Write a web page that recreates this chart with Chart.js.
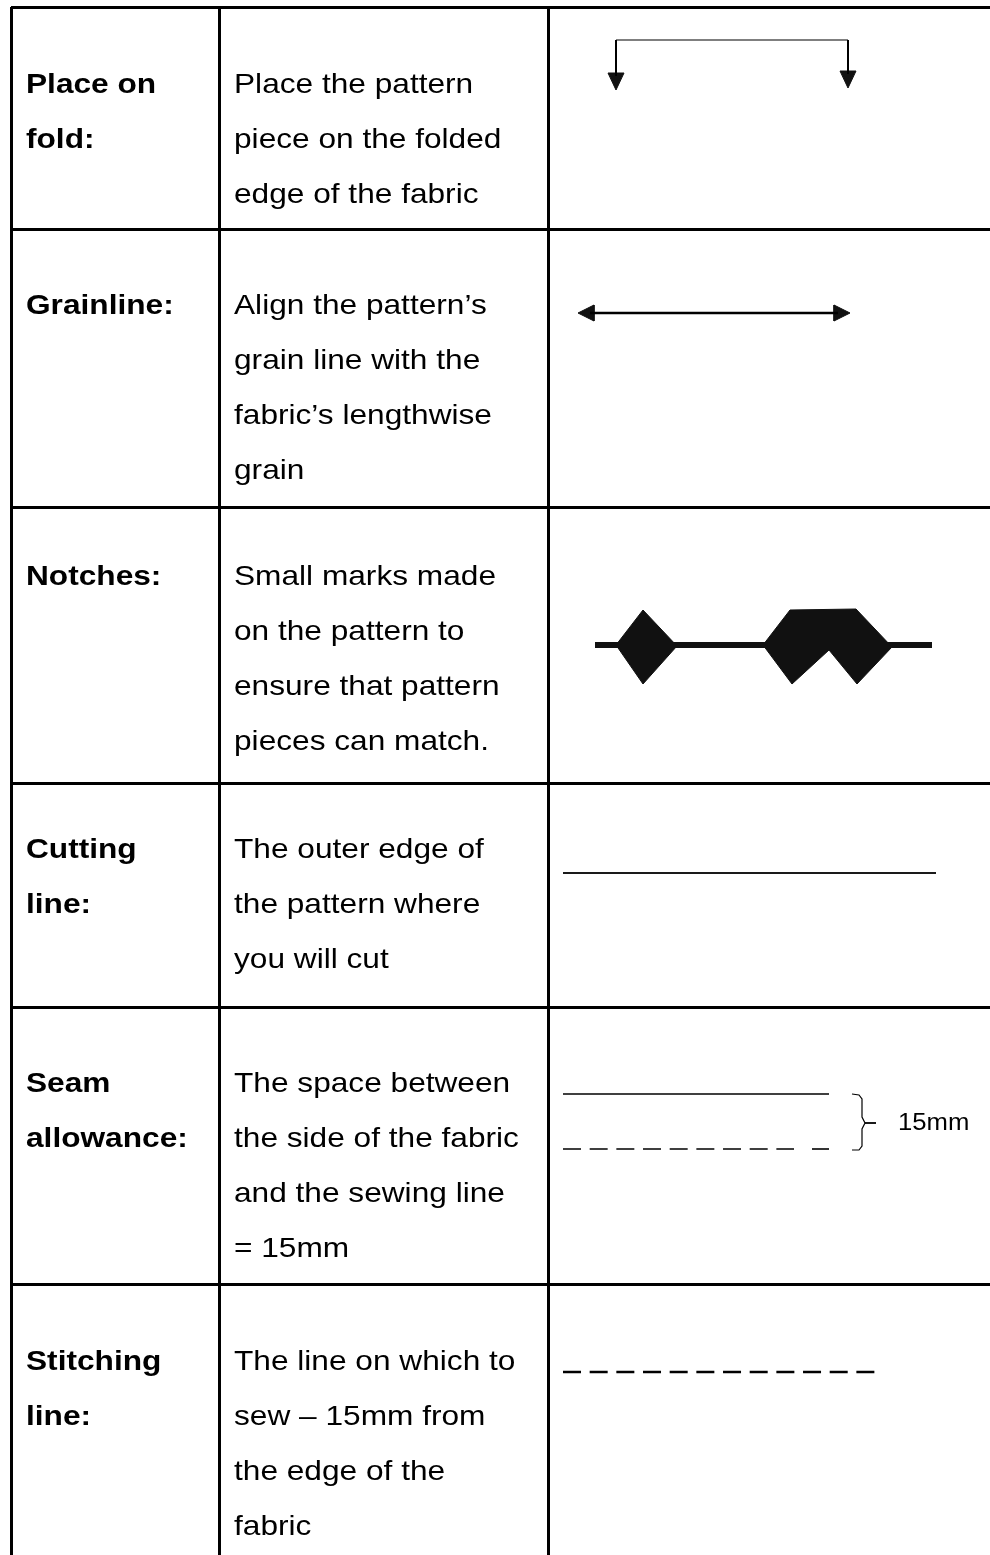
<!DOCTYPE html>
<html>
<head>
<meta charset="utf-8">
<script src="https://cdn.jsdelivr.net/npm/chart.js@4.4.0/dist/chart.umd.min.js"></script>
<style>
    html, body { margin: 0; padding: 0; background: #fff; }
    canvas { display: block; }
</style>
</head>
<body>
<canvas id="sewingSymbols" width="990" height="1555"></canvas>
<script>
// Table layout values (page units, y runs downwards).
const colEdges = [11, 219, 548];
const rowEdges = [7, 229, 507, 783, 1007, 1284];
const firstBaselines = [93, 314, 585, 858, 1092, 1370];
const lineStep = 55;

const terms = [
    ['Place on', 'fold:'],
    ['Grainline:'],
    ['Notches:'],
    ['Cutting', 'line:'],
    ['Seam', 'allowance:'],
    ['Stitching', 'line:']
];

const meanings = [
    ['Place the pattern', 'piece on the folded', 'edge of the fabric'],
    ['Align the pattern\u2019s', 'grain line with the', 'fabric\u2019s lengthwise', 'grain'],
    ['Small marks made', 'on the pattern to', 'ensure that pattern', 'pieces can match.'],
    ['The outer edge of', 'the pattern where', 'you will cut'],
    ['The space between', 'the side of the fabric', 'and the sewing line', '= 15mm'],
    ['The line on which to', 'sew \u2013 15mm from', 'the edge of the', 'fabric']
];

// Symbol outlines, in the same units as the table.
const foldBracket = [[616, 76], [616, 40], [848, 40], [848, 74]];
const foldHeadLeft = [[608, 73], [624, 73], [616, 90], [608, 73]];
const foldHeadRight = [[840, 71], [856, 71], [848, 88], [840, 71]];

const grainShaft = [[590, 313], [838, 313]];
const grainHeadLeft = [[578, 313], [594, 305], [594, 321], [578, 313]];
const grainHeadRight = [[850, 313], [834, 305], [834, 321], [850, 313]];

const notchBar = [[595, 645], [932, 645]];
const notchSingle = [[616, 645], [643, 610], [677, 646], [643, 684], [616, 645]];
const notchDouble = [[763, 645], [790, 610], [856, 609], [892, 647], [857, 684], [829, 650], [792, 684], [763, 645]];

const cuttingLine = [[563, 873], [936, 873]];

const seamEdge = [[563, 1094], [829, 1094]];
const seamStitch = [[563, 1149], [794, 1149]];
const seamStitchEnd = [[812, 1149], [829, 1149]];
const seamBrace = [[852, 1094], [859, 1095], [862, 1099], [862, 1117], [865, 1123], [862, 1129], [862, 1146], [859, 1150], [852, 1150]];
const seamBraceTick = [[865, 1123], [876, 1123]];
const seamLabel = { text: '15mm', x: 898, y: 1130 };

const stitchingLine = [[563, 1372], [875, 1372]];

const termX = 26;
const meaningX = 234;


function toPoints(list) {
    return list.map(p => ({ x: p[0], y: p[1] }));
}

function stroke(list, width, extra) {
    return Object.assign({
        data: toPoints(list),
        borderColor: '#000',
        borderWidth: width,
        pointRadius: 0,
        tension: 0,
        fill: false
    }, extra || {});
}

function shape(list) {
    return {
        data: toPoints(list),
        borderColor: '#111',
        backgroundColor: '#111',
        borderWidth: 1,
        pointRadius: 0,
        tension: 0,
        fill: 'shape'
    };
}

const dash = [18, 8.67];

const datasets = [
    stroke(foldBracket.slice(1, 3), 1.2),
    stroke(foldBracket.slice(0, 2), 2),
    stroke(foldBracket.slice(2, 4), 2),
    shape(foldHeadLeft),
    shape(foldHeadRight),
    stroke(grainShaft, 2.5),
    shape(grainHeadLeft),
    shape(grainHeadRight),
    stroke(notchBar, 6, { borderColor: '#111' }),
    shape(notchSingle),
    shape(notchDouble),
    stroke(cuttingLine, 2.2, { borderColor: '#1a1a1a' }),
    stroke(seamEdge, 1.6),
    stroke(seamStitch, 1.6, { borderDash: dash }),
    stroke(seamStitchEnd, 1.6),
    stroke(seamBrace, 1.2),
    stroke(seamBraceTick, 1.8),
    stroke(stitchingLine, 2.5, { borderDash: dash })
];


function drawStretched(ctx, text, px, py, font, stretch) {
    ctx.save();
    ctx.font = font;
    ctx.translate(px, py);
    ctx.scale(stretch, 1);
    ctx.fillText(text, 0, 0);
    ctx.restore();
}

const tableText = {
    id: 'tableText',
    afterDatasetsDraw(chart) {
        const { ctx, scales } = chart;
        const x = scales.x;
        const y = scales.y;

        ctx.save();
        ctx.fillStyle = '#000';
        ctx.textBaseline = 'alphabetic';
        ctx.textAlign = 'left';

        for (let i = 0; i < terms.length; ++i) {
            const base = firstBaselines[i];
            terms[i].forEach((t, j) => {
                drawStretched(ctx, t, x.getPixelForValue(termX), y.getPixelForValue(base + j * lineStep),
                    'bold 28px "Liberation Sans", Arial, sans-serif', 1.13);
            });
            meanings[i].forEach((t, j) => {
                drawStretched(ctx, t, x.getPixelForValue(meaningX), y.getPixelForValue(base + j * lineStep),
                    '28px "Liberation Sans", Arial, sans-serif', 1.13);
            });
        }

        drawStretched(ctx, seamLabel.text, x.getPixelForValue(seamLabel.x), y.getPixelForValue(seamLabel.y),
            '24px "Liberation Sans", Arial, sans-serif', 1.07);
        ctx.restore();
    }
};

const canvas = document.getElementById('sewingSymbols');

new Chart(canvas, {
    type: 'line',
    data: { datasets: datasets },
    options: {
        responsive: false,
        animation: false,
        devicePixelRatio: 1,
        layout: { padding: { left: 11, top: 7, right: 0, bottom: 0 } },
        plugins: {
            legend: { display: false },
            tooltip: { enabled: false }
        },
        scales: {
            x: {
                type: 'linear',
                min: 11,
                max: 990,
                afterBuildTicks: (scale) => {
                    scale.ticks = colEdges.map(v => ({ value: v }));
                },
                ticks: { display: false },
                grid: { color: '#000', lineWidth: 3, drawTicks: false },
                border: { display: false }
            },
            y: {
                type: 'linear',
                reverse: true,
                min: 7,
                max: 1555,
                afterBuildTicks: (scale) => {
                    scale.ticks = rowEdges.map(v => ({ value: v }));
                },
                ticks: { display: false },
                grid: { color: '#000', lineWidth: 3, drawTicks: false },
                border: { display: false }
            }
        }
    },
    plugins: [tableText]
});
</script>
</body>
</html>
